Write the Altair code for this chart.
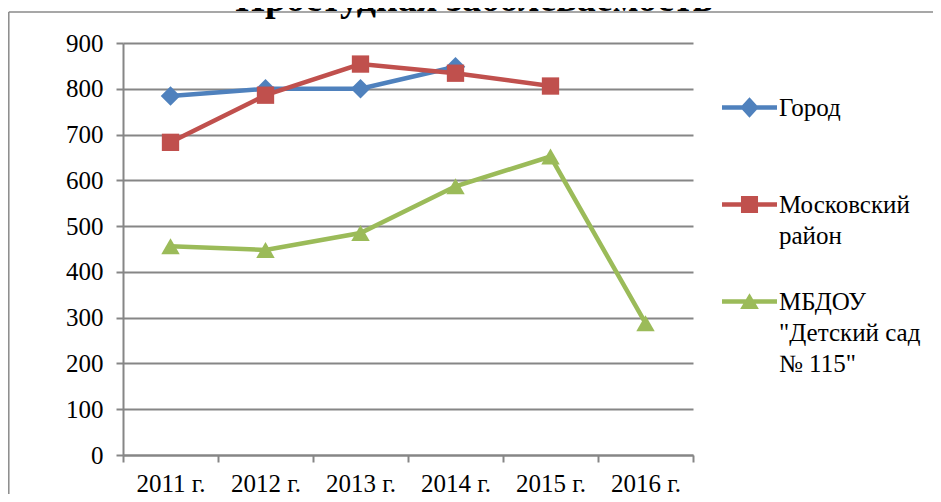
import altair as alt
import pandas as pd

# ---- data ----
years = ["2011 г.", "2012 г.", "2013 г.", "2014 г.", "2015 г.", "2016 г."]
series = ["Город", "Московский район", "МБДОУ \"Детский сад № 115\""]
gorod = [784, 800, 800, 848, None, None]
raion = [683, 786, 854, 834, 806, None]
mbdou = [456, 448, 485, 587, 652, 288]
# legend label lines
legend_lines = [["Город", ""], ["Московский", "район"], ["МБДОУ", "\"Детский сад", "№ 115\""]]
title_text = "Простудная заболеваемость"
y_ticks = list(range(0, 1000, 100))

colors = ["#4F81BD", "#C0504D", "#9BBB59"]
shapes = ["diamond", "square", "triangle-up"]
marker_sizes = [380, 300, 340]
# legend symbols: a line with the marker in the middle (unit coordinates)
legend_paths = [
    "M-1,-0.08L1,-0.08L1,0.08L-1,0.08Z M0,-0.37L0.34,0L0,0.37L-0.34,0Z",
    "M-1,-0.08L1,-0.08L1,0.08L-1,0.08Z M-0.31,-0.31L0.31,-0.31L0.31,0.31L-0.31,0.31Z",
    "M-1,-0.08L1,-0.08L1,0.08L-1,0.08Z M0,-0.3L0.34,0.27L-0.34,0.27Z",
]

FONT = "Liberation Serif"
GRAY = "#868686"

rows = []
for name, vals in zip(series, [gorod, raion, mbdou]):
    for yr, v in zip(years, vals):
        if v is not None:
            rows.append({"year": yr, "series": name, "value": v})
df = pd.DataFrame(rows)

x_enc = alt.X(
    "year:N",
    sort=years,
    scale=alt.Scale(type="band", domain=years, paddingInner=0, paddingOuter=0),
    axis=alt.Axis(
        title=None, labelAngle=0, grid=False, tickBand="extent",
        labelFont=FONT, labelFontSize=25, labelColor="black", labelPadding=9,
        tickSize=7, tickColor=GRAY, tickWidth=2, domainColor=GRAY, domainWidth=2,
    ),
)
y_enc = alt.Y(
    "value:Q",
    scale=alt.Scale(domain=[0, 900], nice=False),
    axis=alt.Axis(
        title=None, values=y_ticks, labelFont=FONT, labelFontSize=25,
        labelColor="black", labelPadding=13, tickSize=7, tickColor=GRAY,
        tickWidth=2, domainColor=GRAY, domainWidth=2, gridColor=GRAY,
        gridWidth=2,
    ),
)

layers = []
for name, c, shp, sz in zip(series, colors, shapes, marker_sizes):
    base = alt.Chart(df).transform_filter(alt.datum.series == name)
    layers.append(
        base.mark_line(strokeWidth=4.5, opacity=1, color=c).encode(x=x_enc, y=y_enc)
    )
    layers.append(
        base.mark_point(shape=shp, size=sz, filled=True, opacity=1, strokeWidth=0,
                        color=c).encode(x=x_enc, y=y_enc)
    )

# legend layer (no marks drawn, only the legend)
label_expr = " : ".join(
    f"datum.label == {repr(s)} ? {repr(lines)}" for s, lines in zip(series, legend_lines)
) + " : datum.label"
leg = alt.Legend(
    title=None, orient="none", legendX=599, legendY=37,
    direction="vertical", columns=1, padding=0, rowPadding=25,
    symbolSize=3025, symbolStrokeWidth=0, symbolOpacity=1,
    labelFont=FONT, labelFontSize=25, labelColor="black",
    labelLimit=400, labelOffset=2, labelBaseline="middle",
    labelExpr=label_expr,
)
legend_layer = (
    alt.Chart(pd.DataFrame({"series": series}))
    .transform_filter("false")
    .mark_point(filled=True, opacity=1)
    .encode(
        color=alt.Color("series:N", scale=alt.Scale(domain=series, range=colors), legend=leg),
        shape=alt.Shape("series:N", scale=alt.Scale(domain=series, range=legend_paths), legend=leg),
    )
)

one = pd.DataFrame({"k": [0]})
frame_top = (
    alt.Chart(one)
    .mark_rule(color="#8a8a8a", strokeWidth=1.5)
    .encode(x=alt.value(-114.2), x2=alt.value(2000), y=alt.value(-31))
)
frame_left = (
    alt.Chart(one)
    .mark_rule(color="#8a8a8a", strokeWidth=1.5)
    .encode(x=alt.value(-114.2), y=alt.value(-31), y2=alt.value(2000))
)

title = (
    alt.Chart(pd.DataFrame({"t": [title_text]}))
    .mark_text(font=FONT, fontSize=38, fontWeight="bold", align="center",
               baseline="alphabetic", color="black")
    .encode(x=alt.value(351), y=alt.value(-32), text="t:N")
)

chart = (
    alt.layer(frame_top, frame_left, *layers, legend_layer, title)
    .properties(
        width=570, height=412,
        padding={"left": 115, "top": 35, "right": 240, "bottom": 39},
        autosize=alt.AutoSizeParams(type="none"),
    )
    .configure(font=FONT, style={"guide-label": {"font": FONT, "lineHeight": 31}})
    .configure_view(stroke=None)
    .configure_axis(labelFont=FONT)
    .configure_legend(labelFont=FONT)
)

chart.save("out.html", embed_options={"renderer": "svg", "actions": False})
